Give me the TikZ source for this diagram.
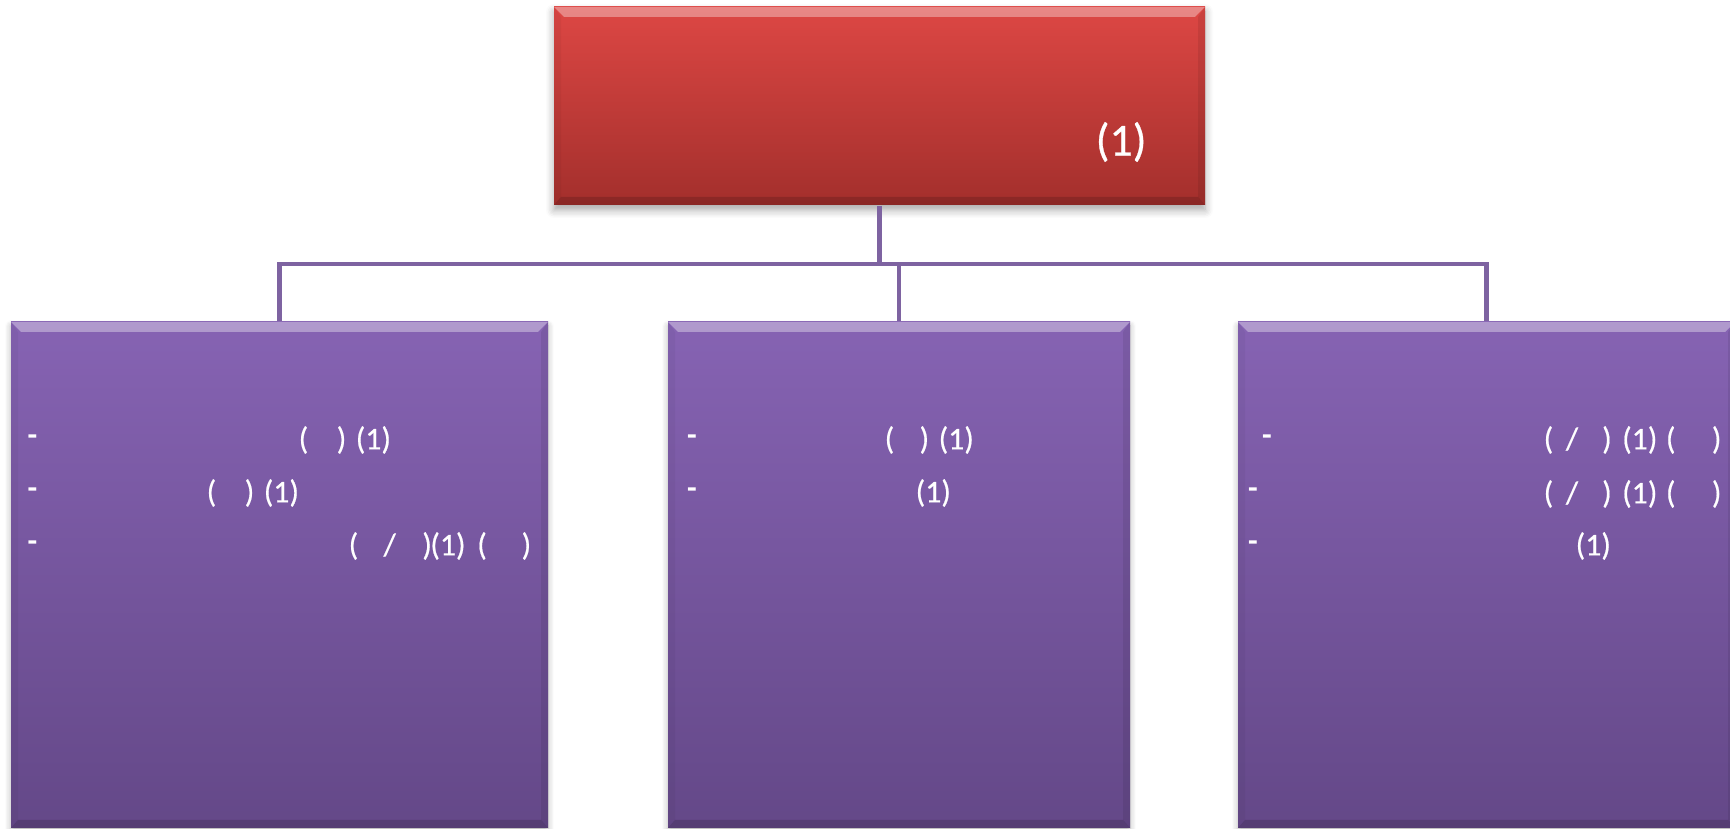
\documentclass[tikz,border=0pt]{standalone}
\usepackage{fontspec}
\setmainfont{Carlito}
\usepackage{tikz}
\usetikzlibrary{shadows.blur}

\definecolor{headtop}{HTML}{DD4744}
\definecolor{headbot}{HTML}{A32F2C}
\definecolor{kidtop}{HTML}{8663B3}
\definecolor{kidbot}{HTML}{644888}
\definecolor{linkcol}{HTML}{7E63A1}

\newcommand{\gp}[1]{\hspace{#1em}}

\tikzset{
  bevel/.style={path picture={
    \fill[white,opacity=.35] (path picture bounding box.north west) -- (path picture bounding box.north east)
      -- ([shift={(-1mm,-1mm)}]path picture bounding box.north east) -- ([shift={(1mm,-1mm)}]path picture bounding box.north west) -- cycle;
    \fill[black,opacity=.04] (path picture bounding box.north west) -- ([shift={(0.7mm,-1mm)}]path picture bounding box.north west)
      -- ([shift={(0.7mm,0.8mm)}]path picture bounding box.south west) -- (path picture bounding box.south west) -- cycle;
    \fill[black,opacity=.08] (path picture bounding box.north east) -- ([shift={(-0.7mm,-1mm)}]path picture bounding box.north east)
      -- ([shift={(-0.7mm,0.8mm)}]path picture bounding box.south east) -- (path picture bounding box.south east) -- cycle;
    \fill[black,opacity=.15] (path picture bounding box.south west) -- (path picture bounding box.south east)
      -- ([shift={(-0.7mm,0.8mm)}]path picture bounding box.south east) -- ([shift={(0.7mm,0.8mm)}]path picture bounding box.south west) -- cycle;
  }},
  headbox/.style={rectangle, inner sep=0pt, top color=headtop, bottom color=headbot, bevel,
    blur shadow={shadow xshift=0pt, shadow yshift=-0.5mm, shadow blur steps=6, shadow blur radius=0.8mm, shadow opacity=35}},
  kidbox/.style={rectangle, inner sep=0pt, top color=kidtop, bottom color=kidbot, bevel,
    blur shadow={shadow xshift=0pt, shadow yshift=-0.4mm, shadow blur steps=6, shadow blur radius=0.6mm, shadow opacity=30}},
  link/.style={linkcol, line width=1.3pt},
  txt/.style={text=white, inner sep=0pt, anchor=west, font=\fontsize{9}{11}\selectfont\addfontfeature{FakeBold=0.6}},
  bullet/.style={text=white, inner sep=0pt, font=\fontsize{9}{11}\selectfont\bfseries},
}

\begin{document}
\begin{tikzpicture}[x=0.1mm, y=-0.1mm]
  \useasboundingbox (0,0) rectangle (1730,829);
  % boxes
  \node[headbox, minimum width=65.1mm, minimum height=19.8mm] (head) at (879.5,106) {};
  \node[kidbox, minimum width=53.7mm, minimum height=50.6mm] (leftbox) at (279.5,575) {};
  \node[kidbox, minimum width=46.2mm, minimum height=50.6mm] (midbox) at (899,575) {};
  \node[kidbox, minimum width=49.7mm, minimum height=50.6mm] (rightbox) at (1486.5,575) {};
  % connectors
  \coordinate (bus) at (879.5,264);
  \draw[link] (head.south) -- (bus);
  \draw[link] (leftbox.north) |- (bus) -| (rightbox.north);
  \draw[link] (bus) -| (midbox.north);
  % head text
  \node[txt, font=\fontsize{13}{16}\selectfont\addfontfeature{FakeBold=0.6}] (headtext) at (1095,142) {(1)};
  % left box
  \node[bullet] (ldash1) at (32.5,440) {-};
  \node[bullet] (ldash2) at (32.5,493) {-};
  \node[bullet] (ldash3) at (32.5,546) {-};
  \node[txt] (ltext1) at (298,440) {(\gp{.9})\gp{.3}(1)};
  \node[txt] (ltext2) at (206,493) {(\gp{.9})\gp{.3}(1)};
  \node[txt] (ltext3) at (348,546) {(\gp{.8}/\gp{.84})\gp{-.05}(1)\gp{.37}(\gp{1.1})};
  % middle box
  \node[bullet] (mdash1) at (692,440) {-};
  \node[bullet] (mdash2) at (692,493) {-};
  \node[txt] (mtext1) at (884,440) {(\gp{.8})\gp{.3}(1)};
  \node[txt] (mtext2) at (915,493) {(1)};
  % right box
  \node[bullet] (rdash1) at (1267,440) {-};
  \node[bullet] (rdash2) at (1253,493) {-};
  \node[bullet] (rdash3) at (1253,546) {-};
  \node[txt] (rtext1) at (1543,440) {(\gp{.4}/\gp{.76})\gp{.33}(1)\gp{.27}(\gp{1.15})};
  \node[txt] (rtext2) at (1543,494) {(\gp{.4}/\gp{.76})\gp{.33}(1)\gp{.27}(\gp{1.15})};
  \node[txt] (rtext3) at (1575,546) {(1)};
\end{tikzpicture}
\end{document}
